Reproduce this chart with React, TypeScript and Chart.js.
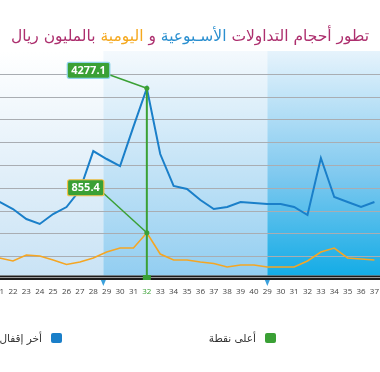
import React, { useEffect, useRef } from 'react';
import { Chart, registerables } from 'chart.js';

Chart.register(...registerables);

// ---- data ----
const labels = [
  '21', '22', '23', '24', '25', '26', '27', '28', '29', '30', '31', '32', '33', '34', '35', '36', '37', '38', '39', '40',
  '29', '30', '31', '32', '33', '34', '35', '36', '37',
];
const lastClose = [
  1584, 1418, 1181, 1063, 1299, 1465, 1868, 2790, 2602, 2436, 3370, 4277.1, 2720, 1963, 1891, 1631, 1418, 1465, 1584, 1560,
  1536, 1536, 1465, 1276, 2626, 1702, 1584, 1465, 1584,
];
const dailyVolume = [
  257, 186, 328, 305, 210, 103, 163, 257, 399, 494, 494, 855.4, 352, 210, 210, 163, 127, 44, 92, 92,
  44, 44, 44, 186, 399, 494, 257, 234, 210,
];
const titleParts = [
  { text: 'تطور أحجام التداولات ', color: '#ad2f6e' },
  { text: 'الأسـبوعية', color: '#2a8fd0' },
  { text: ' و ', color: '#ad2f6e' },
  { text: 'اليومية', color: '#f5a81e' },
  { text: ' بالمليون ريال', color: '#ad2f6e' },
];
const legendItems = [
  { text: 'أخر إقفال', color: '#1a7fc9' },
  { text: 'أعلى نقطة', color: '#3aa035' },
];

const Y_MIN = -240;
const Y_MAX = 5160;
const Y_STEP = 540;

const BLUE = '#1a7fc9';
const ORANGE = '#f5a623';
const GREEN = '#3aa035';

const peakIndex = lastClose.indexOf(Math.max(...lastClose));

function tag(ctx: CanvasRenderingContext2D, text: string, right: number, cy: number, border: string, px: number, py: number) {
  ctx.save();
  ctx.font = 'bold 11px "Open Sans"';
  const w = ctx.measureText(text).width + 8;
  const h = 16;
  const l = right - w;
  const t = cy - h / 2;
  ctx.strokeStyle = GREEN;
  ctx.lineWidth = 1.5;
  ctx.beginPath();
  ctx.moveTo(right - 2, cy + 4);
  ctx.lineTo(px, py);
  ctx.stroke();
  ctx.fillStyle = GREEN;
  ctx.strokeStyle = border;
  ctx.lineWidth = 1.2;
  ctx.beginPath();
  (ctx as any).roundRect(l, t, w, h, 2);
  ctx.fill();
  ctx.stroke();
  ctx.fillStyle = '#ffffff';
  ctx.textAlign = 'center';
  ctx.textBaseline = 'middle';
  ctx.fillText(text, l + w / 2, cy + 0.5);
  ctx.restore();
}

const decor = {
  id: 'decor',
  beforeDraw(chart: any) {
    const { ctx, chartArea: a, scales } = chart;
    const x = scales.x;
    const y = scales.y;
    const W = chart.width;
    const top = a.top;
    const bot = a.bottom - 3.5;
    const b1 = x.getPixelForValue(7.75);
    const b2 = x.getPixelForValue(20);
    const bands: [number, number, string[]][] = [
      [0, b1, ['#ffffff', '#e1eff9', '#c9e3f5']],
      [b1, b2, ['#f4f9fd', '#c1e2f6', '#92cef1']],
      [b2, W, ['#e6f3fc', '#80c9ef', '#14ace6']],
    ];
    ctx.save();
    bands.forEach(([l, r, c]) => {
      const g = ctx.createLinearGradient(0, top, 0, bot);
      g.addColorStop(0, c[0]);
      g.addColorStop(0.55, c[1]);
      g.addColorStop(1, c[2]);
      ctx.fillStyle = g;
      ctx.fillRect(l, top, r - l, bot - top);
    });
    ctx.strokeStyle = '#a9adb2';
    ctx.lineWidth = 1.2;
    for (let v = Y_MIN + Y_STEP; v < Y_MAX - 1; v += Y_STEP) {
      const py = Math.round(y.getPixelForValue(v)) + 0.5;
      ctx.beginPath();
      ctx.moveTo(0, py);
      ctx.lineTo(W, py);
      ctx.stroke();
    }
    ctx.fillStyle = '#1b1b1b';
    ctx.fillRect(0, a.bottom - 3.5, W, 4.5);
    ctx.strokeStyle = '#9a9a9a';
    ctx.lineWidth = 1;
    ctx.beginPath();
    ctx.moveTo(0, a.bottom - 1.5);
    ctx.lineTo(W, a.bottom - 1.5);
    ctx.stroke();
    ctx.fillStyle = '#3aa0dc';
    [b1, b2].forEach((bx) => {
      ctx.beginPath();
      ctx.moveTo(bx - 2.5, a.bottom + 1);
      ctx.lineTo(bx + 2.5, a.bottom + 1);
      ctx.lineTo(bx, a.bottom + 7);
      ctx.closePath();
      ctx.fill();
    });
    ctx.restore();
  },
  afterDatasetsDraw(chart: any) {
    const { ctx, chartArea: a, scales } = chart;
    const x = scales.x;
    const y = scales.y;
    const px = x.getPixelForValue(peakIndex);
    const pyB = y.getPixelForValue(lastClose[peakIndex]);
    const pyO = y.getPixelForValue(dailyVolume[peakIndex]);
    ctx.save();
    ctx.strokeStyle = GREEN;
    ctx.lineWidth = 2;
    ctx.beginPath();
    ctx.moveTo(px, pyB);
    ctx.lineTo(px, a.bottom);
    ctx.stroke();
    ctx.fillStyle = GREEN;
    ctx.fillRect(px - 4, a.bottom - 4, 8, 5);
    [pyB, pyO].forEach((py) => {
      ctx.beginPath();
      ctx.arc(px, py, 2.5, 0, Math.PI * 2);
      ctx.fill();
    });
    ctx.restore();
    tag(ctx, lastClose[peakIndex].toFixed(1), px - 37, pyB - 18, '#8fd3ea', px, pyB);
    tag(ctx, dailyVolume[peakIndex].toFixed(1), px - 43, pyO - 45, '#f5c04a', px, pyO);
  },
};

export default function App() {
  const ref = useRef<HTMLCanvasElement>(null);

  useEffect(() => {
    if (!ref.current) return;
    const chart = new Chart(ref.current, {
      type: 'line',
      data: {
        labels,
        datasets: [
          { label: 'lastClose', data: lastClose, borderColor: BLUE, borderWidth: 2, pointRadius: 0, tension: 0, fill: false },
          { label: 'daily', data: dailyVolume, borderColor: ORANGE, borderWidth: 1.6, pointRadius: 0, tension: 0, fill: false },
        ],
      },
      options: {
        responsive: false,
        animation: false,
        devicePixelRatio: 1,
        layout: { padding: { left: 9, right: 12, top: 51, bottom: 67.4 } },
        plugins: { legend: { display: false }, tooltip: { enabled: false }, title: { display: false } },
        scales: {
          x: {
            type: 'category',
            offset: false,
            grid: { display: false, drawTicks: false },
            border: { display: false },
            ticks: {
              autoSkip: false,
              maxRotation: 0,
              minRotation: 0,
              padding: 8,
              font: { size: 8, family: '"Open Sans"' },
              color: (c: any) => (c.index === peakIndex ? GREEN : '#444444'),
            },
          },
          y: { display: false, min: Y_MIN, max: Y_MAX, ticks: { stepSize: Y_STEP } },
        },
      },
      plugins: [decor],
    });
    return () => chart.destroy();
  }, []);

  return (
    <div style={{ position: 'fixed', left: 0, top: 0, width: 380, height: 372, overflow: 'hidden', background: '#fff' }}>
      <canvas ref={ref} width={400} height={372} style={{ position: 'absolute', left: -13, top: 0, width: 400, height: 372 }} />
      <div
        dir="rtl"
        style={{
          position: 'absolute',
          top: 25,
          left: 0,
          width: 380,
          textAlign: 'center',
          fontFamily: '"DejaVu Sans", sans-serif',
          fontSize: 15.5,
          lineHeight: '22px',
          whiteSpace: 'nowrap',
        }}
      >
        {titleParts.map((p, i) => (
          <span key={i} style={{ color: p.color }}>{p.text}</span>
        ))}
      </div>
      {legendItems.map((it, i) => (
        <div
          key={i}
          dir="rtl"
          style={{
            position: 'absolute',
            top: 332,
            right: i === 0 ? 318 : 104,
            display: 'flex',
            alignItems: 'center',
            gap: 9,
            fontFamily: '"DejaVu Sans", sans-serif',
            fontSize: 10.5,
            color: '#333',
            whiteSpace: 'nowrap',
          }}
        >
          <span style={{ display: 'inline-block', width: 11, height: 10, borderRadius: 2, background: it.color }} />
          <span>{it.text}</span>
        </div>
      ))}
    </div>
  );
}
